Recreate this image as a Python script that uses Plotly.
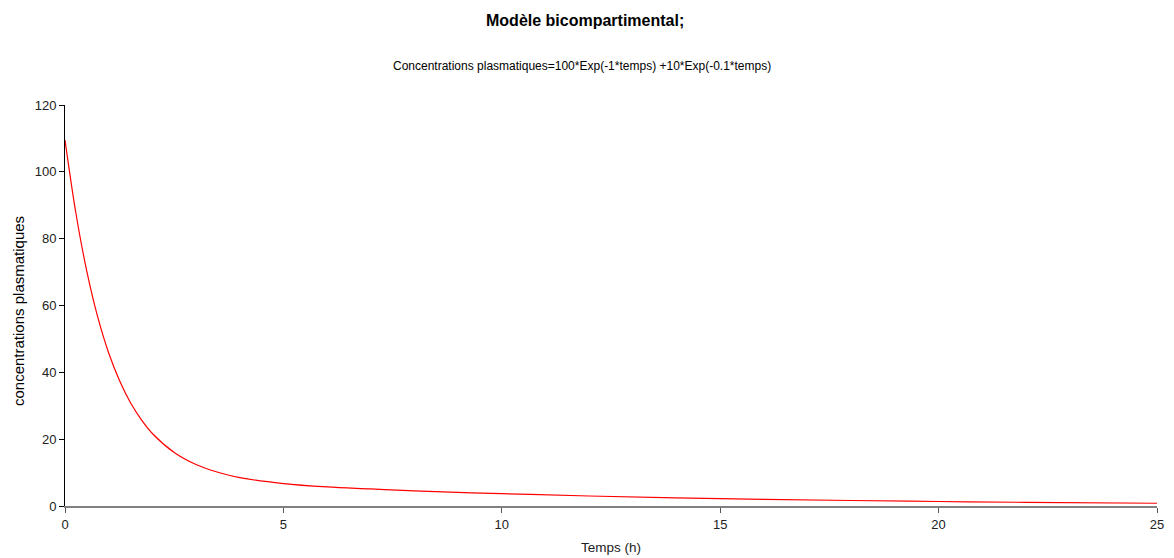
import plotly.graph_objects as go

# Values (time in h, plasma concentration)
temps = [0, 0.25, 0.5, 0.75, 1, 1.25, 1.5, 1.75, 2, 2.5, 3, 3.5, 4, 5, 6, 7, 8, 10, 12, 15, 18, 20, 22, 25]
concentrations = [109.5, 87.6, 70.2, 56.5, 45.8, 37.5, 30.9, 25.8, 21.7, 16.0, 12.4, 10.1, 8.5, 6.7, 5.7, 5.1, 4.5, 3.7, 3.0, 2.2, 1.65, 1.35, 1.1, 0.82]

x_ticks = [0, 5, 10, 15, 20, 25]
y_ticks = [0, 20, 40, 60, 80, 100, 120]

title_text = "Modèle bicompartimental;"
subtitle_text = "Concentrations plasmatiques=100*Exp(-1*temps) +10*Exp(-0.1*temps)"
x_title = "Temps (h)"
y_title = "concentrations plasmatiques"

FONT = "Liberation Sans, Arial, sans-serif"

# page body has an 8px margin: figure origin sits at (8, 8) in the window
OFF = 8
W, H = 1174, 558
L, T, R, B = 65 - OFF, 105 - OFF, W + OFF - 1157, H + OFF - 506
plot_w = W - L - R
plot_h = H - T - B

fig = go.Figure()
fig.add_trace(go.Scatter(
    x=temps, y=concentrations, mode="lines",
    line=dict(color="#ff0000", width=1.2, shape="spline", smoothing=1.0),
    showlegend=False, hoverinfo="x+y",
))

fig.update_layout(
    width=W, height=H,
    margin=dict(l=L, r=R, t=T, b=B, autoexpand=False),
    paper_bgcolor="white", plot_bgcolor="white",
    font=dict(family=FONT, size=12, color="#222"),
    showlegend=False,
)


def px_x(x):
    return (x - OFF - L) / plot_w


def px_y(y):
    return 1 + (T - (y - OFF)) / plot_h


fig.add_annotation(text="<b>" + title_text + "</b>", xref="paper", yref="paper",
                   x=px_x(585), y=px_y(20),
                   showarrow=False, xanchor="center", yanchor="middle",
                   font=dict(family=FONT, size=16, color="#000"))
fig.add_annotation(text=subtitle_text, xref="paper", yref="paper",
                   x=px_x(582), y=px_y(66),
                   showarrow=False, xanchor="center", yanchor="middle",
                   font=dict(family=FONT, size=12, color="#000"))
fig.add_annotation(text=x_title, xref="paper", yref="paper",
                   x=px_x(611), y=px_y(547),
                   showarrow=False, xanchor="center", yanchor="middle",
                   font=dict(family=FONT, size=13.5, color="#222"))
fig.add_annotation(text=y_title, xref="paper", yref="paper",
                   x=px_x(18), y=px_y(311), textangle=-90,
                   showarrow=False, xanchor="center", yanchor="middle",
                   font=dict(family=FONT, size=15, color="#000"))

fig.update_xaxes(
    range=[0, 25], tickvals=x_ticks, ticks="outside", ticklen=5, tickcolor="#555",
    showline=True, linecolor="#808080", linewidth=2, showgrid=False, zeroline=False,
    tickfont=dict(family=FONT, size=13, color="#222"), automargin=False,
)
fig.update_yaxes(
    range=[0, 120], tickvals=y_ticks, ticks="outside", ticklen=5, tickcolor="#000",
    showline=True, linecolor="#000", linewidth=1, showgrid=False, zeroline=False,
    tickfont=dict(family=FONT, size=13, color="#222"), automargin=False,
)

fig.write_html("out.html")
